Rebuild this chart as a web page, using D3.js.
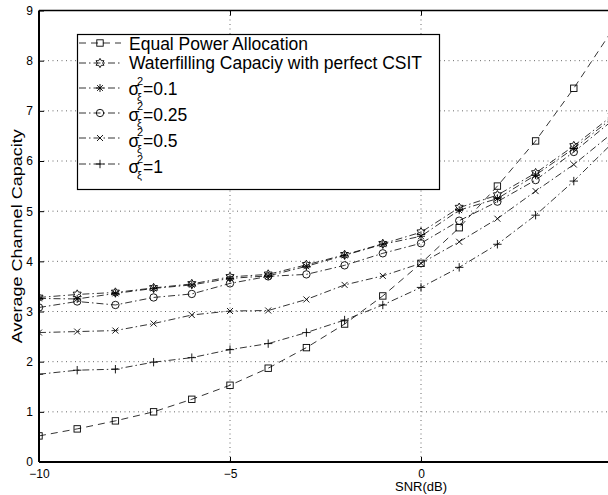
<!DOCTYPE html>
<html><head><meta charset="utf-8">
<script src="https://cdn.jsdelivr.net/npm/d3@7"></script>
<style>body{margin:0;background:#fff}svg{display:block}text{font-family:"Liberation Sans",Arial,sans-serif}</style>
</head><body><svg id="c" width="608" height="495"></svg>
<script>
const snr = [-10,-9,-8,-7,-6,-5,-4,-3,-2,-1,0,1,2,3,4,5];
const equalPower   = [0.52,0.66,0.82,1.00,1.25,1.53,1.87,2.28,2.75,3.31,3.96,4.67,5.50,6.40,7.45,8.60];
const waterfilling = [3.28,3.34,3.38,3.47,3.55,3.69,3.74,3.93,4.13,4.35,4.58,5.07,5.32,5.76,6.30,6.90];
const sigma01      = [3.26,3.25,3.36,3.46,3.53,3.66,3.71,3.90,4.12,4.34,4.50,5.02,5.25,5.72,6.25,6.85];
const sigma025     = [3.08,3.20,3.13,3.28,3.35,3.56,3.70,3.74,3.92,4.16,4.36,4.81,5.19,5.62,6.18,6.80];
const sigma05      = [2.58,2.60,2.62,2.76,2.93,3.01,3.02,3.24,3.53,3.71,3.96,4.39,4.85,5.40,5.93,6.55];
const sigma1       = [1.75,1.83,1.85,1.99,2.08,2.24,2.36,2.58,2.83,3.13,3.48,3.88,4.34,4.92,5.60,6.35];
const xTicks = [-10,-5,0,5,10];
const yTicks = [0,1,2,3,4,5,6,7,8,9];
const legendText = ["Equal Power Allocation","Waterfilling Capaciy with perfect CSIT"];
const legendSigma = ["0.1","0.25","0.5","1"];
const xLabel = "SNR(dB)", yLabel = "Average Channel Capacity";

const series = [
  {v:equalPower, m:"square", dash:"7,5"},
  {v:waterfilling, m:"hex", dash:"7,3,1.5,3"},
  {v:sigma01, m:"aster", dash:"7,3,1.5,3"},
  {v:sigma025, m:"circle", dash:"7,3,1.5,3"},
  {v:sigma05, m:"x", dash:"7,3,1.5,3"},
  {v:sigma1, m:"plus", dash:"7,3,1.5,3"}
];

const W = 608;
const svg = d3.select("#c");
const L=39, T=10.5, B=462, R=803;
const x = d3.scaleLinear().domain([-10,10]).range([L,R]);
const y = d3.scaleLinear().domain([0,9]).range([B,T]);
const visX = xTicks.filter(d=>x(d)<W-2);

// grid
svg.append("g").selectAll("line").data(yTicks.filter(d=>d>0&&d<9)).join("line")
  .attr("x1",L).attr("x2",R).attr("y1",d=>y(d)).attr("y2",d=>y(d))
  .attr("stroke","#444").attr("stroke-width",0.8).attr("stroke-dasharray","1,3.5");
svg.append("g").selectAll("line").data(visX.filter(d=>d>-10)).join("line")
  .attr("y1",T).attr("y2",B).attr("x1",d=>x(d)).attr("x2",d=>x(d))
  .attr("stroke","#444").attr("stroke-width",0.8).attr("stroke-dasharray","1,3.5");

// axes
const ax = svg.append("g").attr("transform",`translate(0,${B})`)
  .call(d3.axisBottom(x).tickValues(visX).tickSize(-5).tickPadding(7).tickFormat(d=>d<0?"\u2212"+Math.abs(d):d));
const ay = svg.append("g").attr("transform",`translate(${L},0)`)
  .call(d3.axisLeft(y).tickValues(yTicks).tickSize(-5).tickPadding(6));
const at = svg.append("g").attr("transform",`translate(0,${T})`)
  .call(d3.axisTop(x).tickValues(visX).tickSize(-5).tickFormat(""));
[ax,ay,at].forEach(g=>{
  g.select(".domain").remove();
  g.selectAll(".tick line").attr("stroke","#000").attr("stroke-width",1);
  g.selectAll("text").attr("fill","#000").style("font-size","12px").style("font-family","Liberation Sans, Arial, sans-serif");
});
ax.selectAll("text").attr("dy","0.71em");
svg.append("line").attr("x1",L).attr("x2",R).attr("y1",B).attr("y2",B).attr("stroke","#000").attr("stroke-width",2);
svg.append("line").attr("x1",L).attr("x2",L).attr("y1",T).attr("y2",B).attr("stroke","#000").attr("stroke-width",2);
svg.append("line").attr("x1",L).attr("x2",R).attr("y1",T).attr("y2",T).attr("stroke","#000").attr("stroke-width",1.5);

// labels
svg.append("text").attr("x",x(0)).attr("y",491).attr("text-anchor","middle").style("font-size","13px").text(xLabel);
svg.append("text").attr("transform",`translate(22,${(T+B)/2}) rotate(-90)`).attr("text-anchor","middle")
  .attr("textLength",214).attr("lengthAdjust","spacingAndGlyphs").style("font-size","14px").text(yLabel);

// markers
function hexPath(r){
  const pts=[];
  for(let i=0;i<12;i++){const a=-Math.PI/2+i*Math.PI/6;const rr=i%2?r*0.58:r;pts.push([rr*Math.cos(a),rr*Math.sin(a)]);}
  return "M"+pts.map(p=>p.join(",")).join("L")+"Z";
}
function drawMarker(g,type,cx,cy){
  const s=g.append("g").attr("transform",`translate(${cx},${cy})`).attr("fill","none").attr("stroke","#000").attr("stroke-width",0.9);
  if(type==="square") s.append("rect").attr("x",-3.2).attr("y",-3.2).attr("width",6.4).attr("height",6.4);
  else if(type==="circle") s.append("circle").attr("r",3.7);
  else if(type==="hex") s.append("path").attr("d",hexPath(4.6));
  else if(type==="x") s.append("path").attr("d","M-3,-3L3,3M-3,3L3,-3");
  else if(type==="plus") s.append("path").attr("d","M-4.2,0L4.2,0M0,-4.2L0,4.2");
  else if(type==="aster") s.append("path").attr("d","M-4,0L4,0M0,-4L0,4M-2.9,-2.9L2.9,2.9M-2.9,2.9L2.9,-2.9");
}

svg.append("clipPath").attr("id","pc").append("rect").attr("x",L).attr("y",T).attr("width",R-L).attr("height",B-T);
const plot = svg.append("g").attr("clip-path","url(#pc)");
const line = d3.line().x(d=>x(d[0])).y(d=>y(d[1]));
series.forEach(s=>{
  const pts = snr.map((t,i)=>[t,s.v[i]]);
  plot.append("path").attr("d",line(pts)).attr("fill","none").attr("stroke","#000").attr("stroke-width",0.8).attr("stroke-dasharray",s.dash);
  pts.forEach(p=>drawMarker(plot,s.m,x(p[0]),y(p[1])));
});

// legend
const lg = svg.append("g");
lg.append("rect").attr("x",77.5).attr("y",34.5).attr("width",362).attr("height",155).attr("fill","#fff").attr("stroke","#000").attr("stroke-width",1.2);
const rowY = [43,63,88,113,138,164];
const baseY = [49.5,69,95,120.5,146.5,173];
series.forEach((s,i)=>{
  lg.append("line").attr("x1",79).attr("x2",121).attr("y1",rowY[i]).attr("y2",rowY[i]).attr("stroke","#000").attr("stroke-width",0.8).attr("stroke-dasharray",s.dash);
  drawMarker(lg,s.m,100,rowY[i]);
  if(i<2){
    lg.append("text").attr("x",129).attr("y",baseY[i]).style("font-size","17.5px").text(legendText[i]);
  } else {
    const b=baseY[i];
    const t = lg.append("text").attr("x",128.5).attr("y",b).style("font-size","17.5px");
    t.append("tspan").text("\u03c3");
    t.append("tspan").attr("x",137).attr("y",b-10.5).style("font-size","11px").text("2");
    t.append("tspan").attr("x",137).attr("y",b+6).style("font-size","11px").text("\u03be");
    t.append("tspan").attr("x",143).attr("y",b).text("="+legendSigma[i-2]);
  }
});
</script></body></html>
